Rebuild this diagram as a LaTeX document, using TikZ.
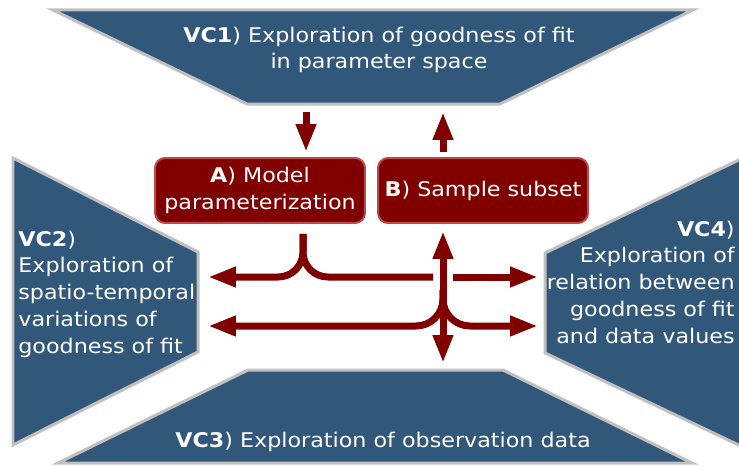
\documentclass[tikz,border=0pt]{standalone}
\usepackage{fontspec}
\setmainfont{DejaVu Sans}[FakeStretch=1.1]
\usetikzlibrary{arrows.meta}
\definecolor{vcblue}{RGB}{49,88,122}
\definecolor{vcgrey}{RGB}{192,192,192}
\definecolor{stepred}{RGB}{128,0,0}
\definecolor{stepedge}{RGB}{185,75,75}
\tikzset{
  vcshape/.style={fill=vcblue, draw=vcgrey, line width=0.06cm},
  vctext/.style={text=white, inner sep=0pt, font=\fontsize{11.5pt}{15.2pt}\selectfont},
  stepbox/.style={rectangle, rounded corners=0.2cm, fill=stepred, draw=stepedge,
    line width=0.04cm, minimum width=4.2cm, minimum height=1.3cm, inner sep=0pt,
    text=white, align=center, font=\fontsize{11.5pt}{15pt}\selectfont},
  flow/.style={stepred, line width=0.14cm, >={Triangle[length=0.56cm,width=0.38cm]}}
}
\begin{document}
\begin{tikzpicture}[x=0.02cm, y=-0.02cm]
                \useasboundingbox (0,0) rectangle (739,466);

                \draw [vcshape] (53,10) -- (693,10) -- (500,104) -- (247,104) -- cycle;
                \draw [vcshape] (13,158) -- (198,252) -- (198,352) -- (13,445) -- cycle;
                \draw [vcshape] (248,370) -- (503,370) -- (692,463) -- (58,463) -- cycle;
                \draw [vcshape] (545,253) -- (745,157) -- (745,448) -- (545,353) -- cycle;

                \node [vctext, anchor=base, align=center] (vc1) at (379,69)
                      {\textbf{VC1}) Exploration of goodness of fit\\in parameter space};
                \node [vctext, anchor=base west, align=left] (vc2) at (18,353)
                      {\textbf{VC2})\\Exploration of\\spatio-temporal\\variations of\\goodness of fit};
                \node [vctext, anchor=base] (vc3) at (383,447)
                      {\textbf{VC3}) Exploration of observation data};
                \node [vctext, anchor=base east, align=right] (vc4) at (735,343)
                      {\textbf{VC4})\\Exploration of\\relation between\\goodness of fit\\and data values};

                \node [stepbox] (modelpar) at (260,190.5) {\textbf{A}) Model\\parameterization};
                \node [stepbox] (subset) at (483,190.5) {\textbf{B}) Sample subset};

                \coordinate (vc1out) at (306,104);
                \coordinate (vc1in) at (443,104);
                \coordinate (astem) at (303,223);
                \coordinate (bstem) at (443,223);
                \coordinate (split) at (443,290);
                \coordinate (gapleft) at (433,277);
                \coordinate (gapright) at (453,277);
                \coordinate (vc2upper) at (208,277);
                \coordinate (vc2lower) at (208,326);
                \coordinate (vc4upper) at (538,277);
                \coordinate (vc4lower) at (538,326);
                \coordinate (vc3in) at (443,370);

                \draw [flow, ->, shorten <=0.16cm, shorten >=0.1cm] (vc1out) -- (vc1out |- modelpar.north);
                \draw [flow, ->, shorten <=0.1cm, shorten >=0.16cm] (subset.north -| vc1in) -- (vc1in);

                \draw [flow, ->, rounded corners=0.5cm, shorten <=0.2cm] (modelpar.south -| astem) |- (vc2upper);
                \draw [flow, rounded corners=0.5cm, shorten <=0.2cm] (modelpar.south -| astem) |- (gapleft);
                \draw [flow, ->] (gapright) -- (vc4upper);

                \draw [flow, <->, shorten <=0.14cm, shorten >=0.14cm] (subset.south -| bstem) -- (vc3in);
                \draw [flow, ->, rounded corners=0.54cm] (split) |- (vc2lower);
                \draw [flow, ->, rounded corners=0.54cm] (split) |- (vc4lower);
\end{tikzpicture}
\end{document}
